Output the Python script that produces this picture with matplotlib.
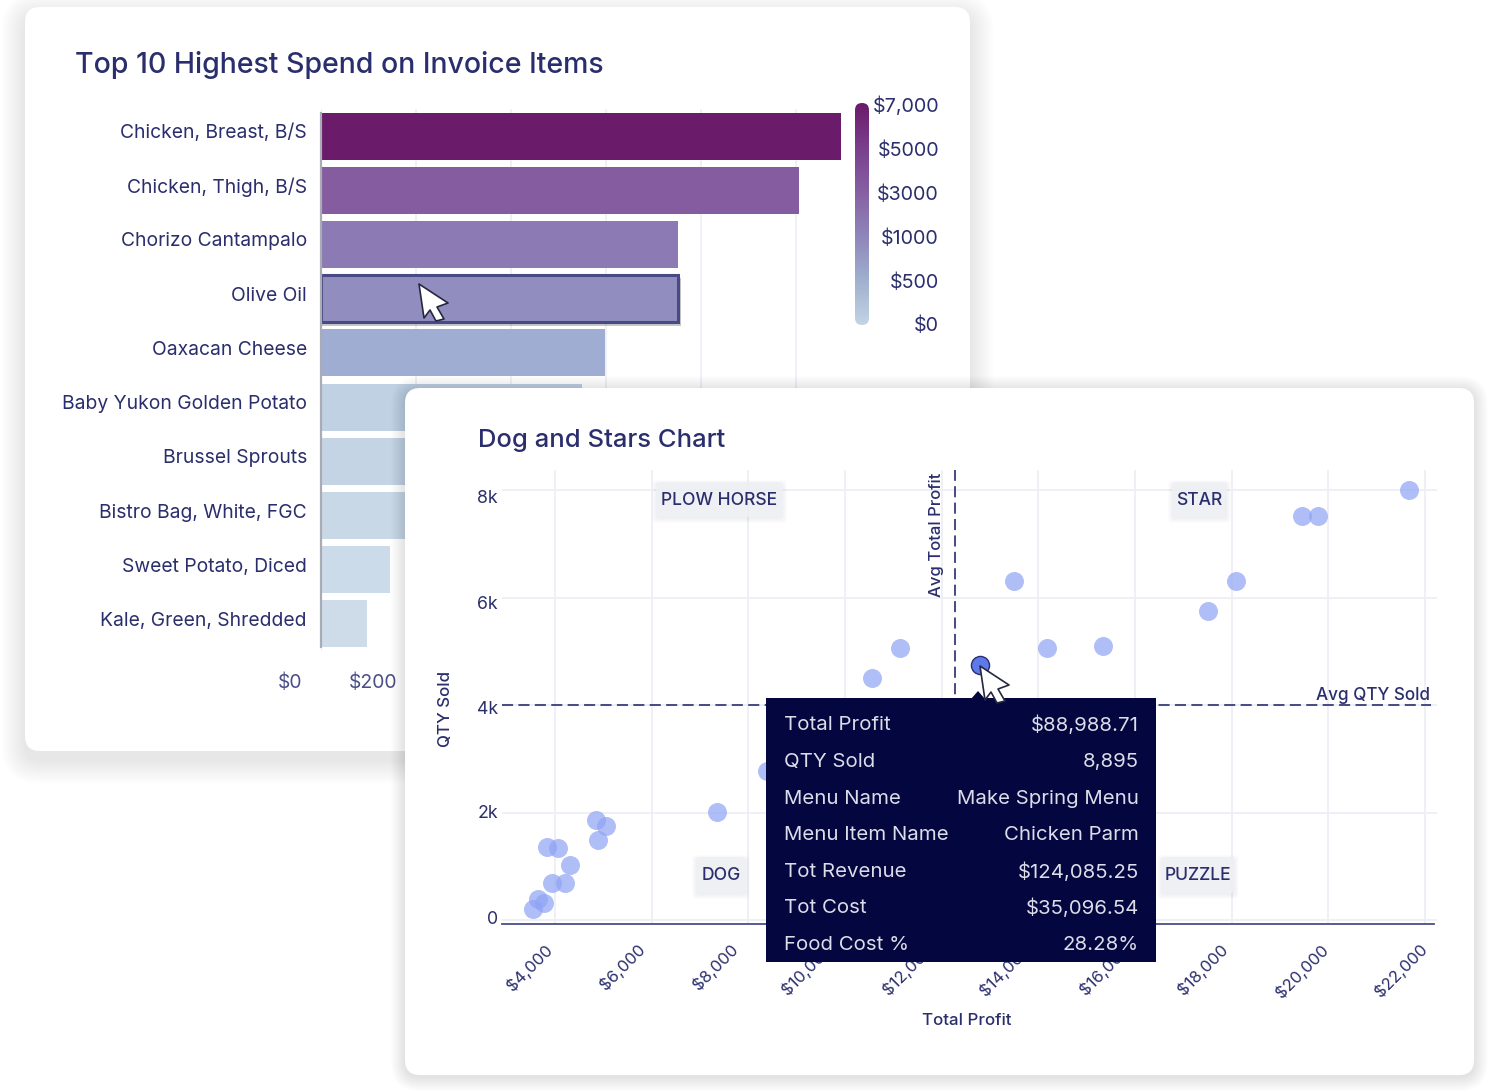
import matplotlib
matplotlib.use("Agg")
import matplotlib.pyplot as plt
import numpy as np
from matplotlib.patches import FancyBboxPatch, Polygon, Rectangle
from matplotlib.colors import LinearSegmentedColormap

plt.rcParams["font.family"] = ["Inter", "DejaVu Sans"]

# bar chart data
items = ["Chicken, Breast, B/S", "Chicken, Thigh, B/S", "Chorizo Cantampalo", "Olive Oil", "Oaxacan Cheese",
         "Baby Yukon Golden Potato", "Brussel Sprouts", "Bistro Bag, White, FGC", "Sweet Potato, Diced",
         "Kale, Green, Shredded"]
spend = [1095, 1006, 752, 752, 598, 549, 510, 470, 145, 97]
bar_colors = ["#6a1b6a", "#855ca0", "#8b7ab3", "#918dbf", "#9fadd2", "#c0d1e3", "#c5d4e5", "#c9d8e7", "#ccdbe9", "#cedcea"]
spend_ticks = [0, 200, 400, 600, 800, 1000]
spend_labels = ["$0", "$200"]
legend_labels = ["$7,000", "$5000", "$3000", "$1000", "$500", "$0"]
legend_colors = ["#6a1b6a", "#7a3f8c", "#8660a3", "#8f86ba", "#a0b0cf", "#c3d4e4"]

# scatter data
profit = [21670, 19456, 19787, 13497, 18091, 17511, 14180, 15339, 11138, 10559, 8387, 7352,
          4848, 5055, 4890, 3834, 4062, 4310, 3938, 4207, 3648, 3772, 3545]
qty = [8000, 7516, 7516, 6307, 6307, 5749, 5060, 5098, 5060, 4502, 2772, 2009,
       1860, 1749, 1488, 1358, 1340, 1023, 688, 688, 391, 316, 205]
picked_profit = 12794
picked_qty = 4744
avg_profit = 12277
avg_qty = 4000
profit_ticks = [4000, 6000, 8000, 10000, 12000, 14000, 16000, 18000, 20000, 22000]
profit_labels = ["$4,000", "$6,000", "$8,000", "$10,000", "$12,000", "$14,000", "$16,000", "$18,000", "$20,000", "$22,000"]
qty_ticks = [0, 2000, 4000, 6000, 8000]
qty_labels = ["0", "2k", "4k", "6k", "8k"]
tooltip_names = ["Total Profit", "QTY Sold", "Menu Name", "Menu Item Name", "Tot Revenue", "Tot Cost", "Food Cost %"]
tooltip_values = ["$88,988.71", "8,895", "Make Spring Menu", "Chicken Parm", "$124,085.25", "$35,096.54", "28.28%"]

NAVY = "#2a2e6c"
GRID = "#eeeff5"
W, H = 1500, 1092

fig = plt.figure(figsize=(15, 10.92), dpi=100, facecolor="white")


def layer(z):
    ax = fig.add_axes([0, 0, 1, 1], zorder=z)
    ax.set_xlim(0, W)
    ax.set_ylim(H, 0)
    ax.axis("off")
    ax.patch.set_alpha(0)
    return ax


def box_ax(x0, y0, x1, y1, z):
    ax = fig.add_axes([x0 / W, 1 - y1 / H, (x1 - x0) / W, (y1 - y0) / H], zorder=z)
    ax.patch.set_alpha(0)
    return ax


def card(ax, x0, y0, x1, y1, spread, dy, alpha):
    # soft shadow made of stacked rounded boxes
    for r in range(spread, 0, -1):
        ax.add_patch(FancyBboxPatch((x0 - r, y0 - r + dy), x1 - x0 + 2 * r, y1 - y0 + 2 * r,
                                    boxstyle=f"round,pad=0,rounding_size={15 + r}", fc="black", ec="none", alpha=alpha))
    ax.add_patch(FancyBboxPatch((x0, y0), x1 - x0, y1 - y0, boxstyle="round,pad=0,rounding_size=15", fc="white", ec="none"))


def cursor(ax, x, y):
    shape = np.array([[0, 0], [29, 19], [18, 23], [25, 35], [17, 37], [11, 26], [5, 34]])
    ax.add_patch(Polygon(shape + [x, y], closed=True, fc="white", ec="#26283f", lw=1.2, joinstyle="round", zorder=9))


def tag(ax, x0, y0, x1, y1, text):
    for r in range(5, 0, -1):
        ax.add_patch(FancyBboxPatch((x0 - r + 1, y0 - r + 3), x1 - x0 + 2 * r - 2, y1 - y0 + 2 * r - 2,
                                    boxstyle="round,pad=0,rounding_size=4", fc="black", ec="none", alpha=0.012))
    ax.add_patch(FancyBboxPatch((x0, y0), x1 - x0, y1 - y0, boxstyle="round,pad=0,rounding_size=4",
                                fc="#eef0f4", ec="none", alpha=0.9))
    ax.text((x0 + x1) / 2, (y0 + y1) / 2 + 1, text, ha="center", va="center", fontsize=12.6, color=NAVY, weight="medium")


# back card
back = layer(0)
card(back, 25, 7, 970, 751, 24, 9, 0.0055)
back.text(75, 65, "Top 10 Highest Spend on Invoice Items", fontsize=20.5, color=NAVY, weight="medium", va="center")

# bar chart
ax1 = box_ax(321, 109, 891, 651, 1)
y_pos = np.arange(len(items))
ax1.set_axisbelow(True)
ax1.grid(axis="x", color=GRID, lw=1.2)
ax1.barh(3.06, 755, height=0.88, left=3, color="black", alpha=0.22, zorder=0.8)
bars = ax1.barh(y_pos, spend, height=0.867, color=bar_colors, zorder=1)
bars[3].set_edgecolor("#474a84")
bars[3].set_linewidth(2.2)
ax1.set_xlim(0, 1200)
ax1.set_ylim(9.5, -0.5)
ax1.set_yticks(y_pos, [""] * len(items))
ax1.set_xticks(spend_ticks, [""] * len(spend_ticks))
ax1.tick_params(length=0)
for i, lab in zip(y_pos, items):
    ax1.annotate(lab, (0, i), xycoords=("axes fraction", "data"), xytext=(-14, 3), textcoords="offset pixels",
                 ha="right", va="center", fontsize=13.9, color=NAVY)
for v, lab in zip(spend_ticks, spend_labels):
    ax1.annotate(lab, (v, 0), xycoords=("data", "axes fraction"), xytext=(-19, -32), textcoords="offset pixels",
                 ha="right", va="center", fontsize=13.9, color="#4a4e86")
for s in ["top", "right", "bottom"]:
    ax1.spines[s].set_visible(False)
ax1.spines["left"].set_color("#a9abb5")
ax1.spines["left"].set_linewidth(1.6)
ax1.spines["left"].set_bounds(-0.43, 9.43)

# colour legend
ax_leg = box_ax(855, 103, 869, 325, 1)
cmap = LinearSegmentedColormap.from_list("spend", legend_colors)
img = ax_leg.imshow(np.linspace(0, 1, 256).reshape(-1, 1), cmap=cmap, aspect="auto", extent=[0, 14, 222, 0])
clip = FancyBboxPatch((0, 0), 14, 222, boxstyle="round,pad=0,rounding_size=7", transform=ax_leg.transData, fc="none", ec="none")
ax_leg.add_patch(clip)
img.set_clip_path(clip)
ax_leg.axis("off")
for lab, y in zip(legend_labels, [106, 151, 195, 239, 283, 326]):
    back.text(939, y, lab, ha="right", va="center", fontsize=14.2, color=NAVY)

# front card
front = layer(2)
card(front, 405, 388, 1474, 1075, 14, 2, 0.006)
front.text(478, 440, "Dog and Stars Chart", fontsize=18.45, color=NAVY, weight="medium", va="center")

# scatter chart
ax2 = box_ax(502, 470, 1437, 924, 3)
ax2.set_xlim(2903, 22248)
ax2.set_ylim(-74, 8372)
ax2.set_axisbelow(True)
ax2.grid(color=GRID, lw=1.3)
ax2.scatter(profit, qty, s=187, color="#8fa3f5", alpha=0.7, linewidths=0, zorder=3)
ax2.scatter([picked_profit], [picked_qty], s=170, color="#5d79ea", edgecolors="#2a2e6c", linewidths=1.0, zorder=4)
ax2.hlines(avg_qty, 2903, 22130, color="#4a4e86", lw=1.45, linestyles=(0, (5.5, 2.65)), zorder=2)
ax2.axvline(avg_profit, color="#4a4e86", lw=1.45, dashes=(5.5, 2.65), zorder=2)
ax2.set_xticks(profit_ticks, [""] * len(profit_ticks))
ax2.set_yticks(qty_ticks, [""] * len(qty_ticks))
ax2.tick_params(length=0)
for v, lab, dx in zip(profit_ticks, profit_labels, [-5, -9, -13, -15, -11, -10, -8, -6, -2, 0]):
    ax2.annotate(lab, (v, 0), xycoords=("data", "axes fraction"), xytext=(dx, -23), textcoords="offset pixels",
                 ha="right", va="center", rotation=45, rotation_mode="anchor", fontsize=12, color=NAVY)
for v, lab, dy in zip(qty_ticks, qty_labels, [1, -1, -4, -7, -9]):
    ax2.annotate(lab, (0, v), xycoords=("axes fraction", "data"), xytext=(-4, dy), textcoords="offset pixels",
                 ha="right", va="center", fontsize=12.8, color=NAVY)
for s in ["top", "right", "left"]:
    ax2.spines[s].set_visible(False)
ax2.spines["bottom"].set_color("#4a4e86")
ax2.spines["bottom"].set_linewidth(1.3)
ax2.spines["bottom"].set_bounds(2903, 22190)
ax2.set_xlabel("Total Profit", fontsize=12.2, color=NAVY, weight="medium", labelpad=0)
ax2.xaxis.set_label_coords((967 - 502) / 935, -(1013 - 924) / 454)
ax2.set_ylabel("QTY Sold", fontsize=12.2, color=NAVY, weight="medium")
ax2.yaxis.set_label_coords(-(502 - 453) / 935, (924 - 709) / 454)

# everything on top of the plot
top = layer(4)
top.text(937, 535, "Avg Total Profit", rotation=90, ha="center", va="center", fontsize=12, color=NAVY, weight="medium")
top.text(1430, 695, "Avg QTY Sold", ha="right", va="center", fontsize=12.3, color=NAVY, weight="medium")
tag(top, 656, 482, 783, 517, "PLOW HORSE")
tag(top, 1172, 482, 1227, 517, "STAR")
tag(top, 696, 857, 746, 893, "DOG")
tag(top, 1161, 857, 1235, 893, "PUZZLE")

top.add_patch(Rectangle((766, 698), 390, 264, fc="#03063f", ec="none"))
top.add_patch(Polygon([[971, 699], [978, 691], [985, 699]], closed=True, fc="#03063f", ec="none"))
for name, value, y in zip(tooltip_names, tooltip_values, [725, 762, 799, 835, 872, 908, 945]):
    top.text(784, y, name, ha="left", va="center", fontsize=14.7, color="#dcdde8")
    top.text(1139, y, value, ha="right", va="center", fontsize=14.7, color="#dcdde8")

cursor(top, 419, 284)
cursor(top, 980, 666)

fig.savefig("out.png", dpi=100)
